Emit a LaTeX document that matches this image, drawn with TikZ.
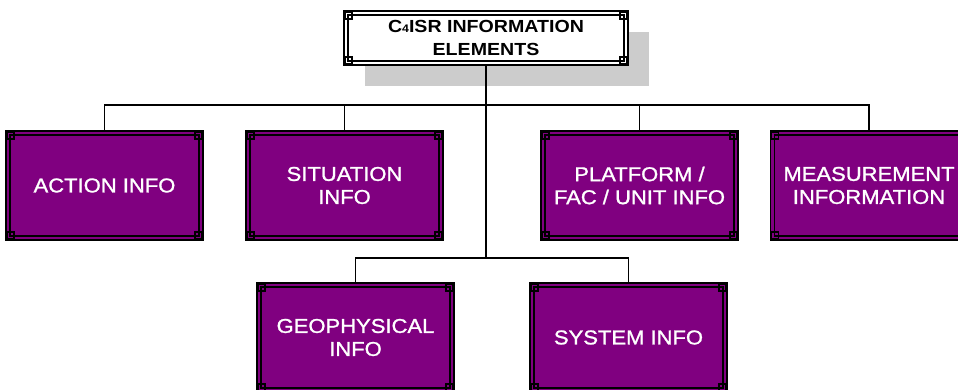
\documentclass[tikz,border=0pt]{standalone}
\usepackage{fontspec}
\usetikzlibrary{calc,shadows}
\newfontfamily\boxfont[FakeStretch=1.1,FakeBold=1.2]{Liberation Sans}
\newfontfamily\headfont[FakeStretch=1.12]{Liberation Sans}
\definecolor{boxpurple}{RGB}{128,0,128}
\definecolor{shadowgray}{RGB}{204,204,204}
\tikzset{
  frameline/.style={draw=black, line width=1.1pt},
  infobox/.style={frameline, fill=boxpurple, text=white, align=center,
    minimum width=197pt, minimum height=109pt, inner sep=0pt, outer sep=0pt,
    font=\boxfont\fontsize{20}{23}\selectfont},
  headbox/.style={frameline, fill=white, text=black, align=center,
    minimum width=284pt, minimum height=54pt, inner sep=0pt, outer sep=0pt,
    font=\headfont\bfseries\fontsize{17.5}{23}\selectfont,
    drop shadow={shadow xshift=21pt, shadow yshift=-21pt, fill=shadowgray, opacity=1}},
  link/.style={draw=black, line width=1.1pt},
  trunk/.style={draw=black, line width=2.4pt}
}
\begin{document}
\begin{tikzpicture}[x=1pt,y=1pt]
\useasboundingbox (0,0) rectangle (958,390);

% head of the tree
\node[headbox] (top) at (486,352) {C{\fontsize{11}{11}\selectfont 4}ISR INFORMATION\\ELEMENTS};

% first row
\node[infobox] (action) at (104.5,204.5) {ACTION INFO};
\node[infobox] (sit)    at (344.5,204.5) {SITUATION\\INFO};
\node[infobox] (plat)   at (639.5,204.5) {PLATFORM /\\FAC / UNIT INFO};
\node[infobox] (meas)   at (869,204.5)   {MEASUREMENT\\INFORMATION};

% second row
\node[infobox] (geo) at (355.5,52.5) {GEOPHYSICAL\\INFO};
\node[infobox] (sys) at (628.5,52.5) {SYSTEM INFO};

% inner frame and corner squares of every box
\foreach \n in {top,action,sit,plat,meas,geo,sys}{
  \draw[frameline] ($(\n.south west)+(4,4)$) rectangle ($(\n.north east)+(-4,-4)$);
  \foreach \a/\sx/\sy in {south west/1/1, south east/-1/1, north west/1/-1, north east/-1/-1}
    \draw[frameline] ($(\n.\a)+(\sx,\sy)$) rectangle ++(7*\sx,7*\sy);
}

% connectors
\coordinate (upperbar) at (486,285);
\coordinate (lowerbar) at (486,132);
\draw[link] (action.north) |- (upperbar) -| (meas.north);
\draw[link] (sit.north) -- (sit.north |- upperbar);
\draw[link] (plat.north) -- (plat.north |- upperbar);
\draw[link] (geo.north) |- (lowerbar) -| (sys.north);
\draw[trunk] (top.south) -- (lowerbar);
\end{tikzpicture}
\end{document}
